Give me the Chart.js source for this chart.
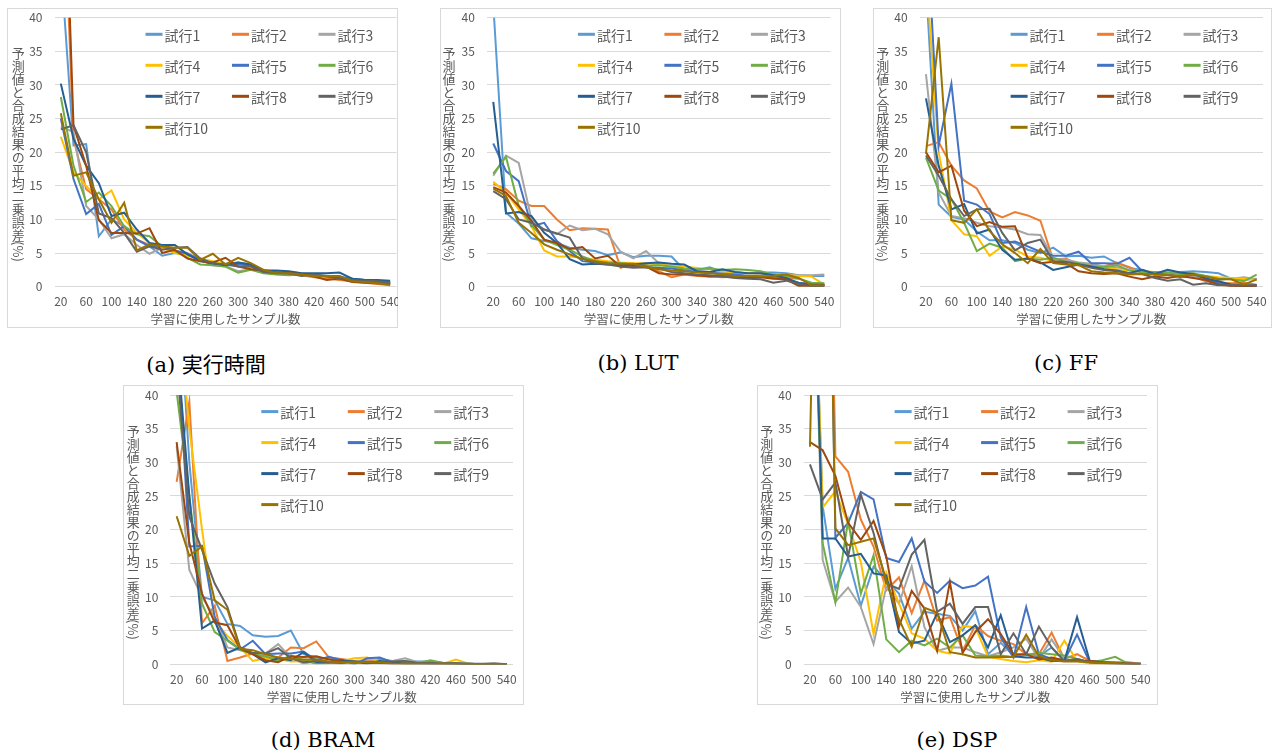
<!DOCTYPE html>
<html><head><meta charset="utf-8">
<script src="https://cdn.jsdelivr.net/npm/chart.js@4/dist/chart.umd.min.js"></script>
<style>
body{margin:0;background:#fff;width:1273px;height:754px;position:relative;overflow:hidden;}
.panel{position:absolute;outline:1px solid #d9d9d9;outline-offset:-1px;}
.panel canvas{position:absolute;left:0;top:0;}
.ytitle{position:absolute;writing-mode:vertical-rl;font:13px 'Noto Sans CJK JP',sans-serif;color:#595959;transform:translate(-50%,-50%);white-space:nowrap;line-height:1;}
.cap{position:absolute;font:21px 'DejaVu Serif','Noto Sans CJK JP',serif;color:#000;transform:translate(-50%,-50%);white-space:nowrap;}
</style>
</head><body>
<script>
// ---- categories ----
const samples = [20,40,60,80,100,120,140,160,180,200,220,240,260,280,300,320,340,360,380,400,420,440,460,480,500,520,540];
const trialNames = ['試行1','試行2','試行3','試行4','試行5','試行6','試行7','試行8','試行9','試行10'];
const yTicks = [0,5,10,15,20,25,30,35,40];
const xTitle = '学習に使用したサンプル数';
const yTitle = '予測値と合成結果の平均二乗誤差(%)';
const captions = ['(a) 実行時間','(b) LUT','(c) FF','(d) BRAM','(e) DSP'];

// ---- (a) 実行時間 ----
const rt1 = [48,21,21.2,7.5,10,9,7,6,4.6,5,4.8,4.2,3.6,3.4,3.6,3.3,2.5,2.2,2,1.9,1.8,1.6,1.5,1.2,1,0.8,0.5];
const rt2 = [70,22,14.5,13,11.5,8.5,7,6.2,5.7,5.3,4.8,4,3.4,3.3,3.2,3,2.4,2,1.9,1.7,1.4,1.2,1,0.8,0.6,0.4,0.2];
const rt3 = [23.8,23,12,10,7.2,7.8,6.2,4.9,5.8,5.3,5,4,3.2,3,2.3,2.6,2.4,2,1.8,1.8,1.6,1.5,1.4,1,0.8,0.6,0.4];
const rt4 = [22.3,17,15,13,14.3,10,8,6.5,5.8,5,4.6,4.2,3.8,3.3,3.1,2.8,2.5,2.2,2.2,2,1.7,1.5,1.3,1,0.9,0.7,0.5];
const rt5 = [25,16,10.8,12.3,7.7,9,7,6,6,5.4,4.9,4,3.3,3.1,3.4,3.1,2.2,2.1,2,1.9,1.7,1.6,1.4,1.2,1,0.9,0.7];
const rt6 = [28.2,18,12.6,14,12,9,7.8,7.5,6,5.3,4.3,3.3,3.2,3,2.1,2.5,2,1.8,1.7,1.8,1.6,1.5,1.3,1,0.8,0.7,0.5];
const rt7 = [30.2,22,18,15.4,10.5,11,8.5,6.5,6.2,6.2,4.8,3.8,3.5,3.2,3.6,3.3,2.4,2.4,2.3,2,2,2,2.1,1.2,1,1,0.9];
const rt8 = [80,24,18,9.9,8,8,7.9,8.7,5,5.5,4.2,3.8,3.6,4.3,3,2.6,2.4,2.1,2,1.9,1.5,1,1.2,0.7,0.6,0.5,0.4];
const rt9 = [23.4,24,20,10.9,10.2,8,5.2,6,5.5,5.8,5.9,4.2,3.5,3.3,3,3,2.2,2,2,1.6,1.8,1.5,1.3,1,0.9,0.8,0.6];
const rt10 = [25.8,16.5,17,13,9.5,12.5,5.4,6.3,6,5.8,5.8,4,4.9,3.3,4.3,3.5,2.5,2,2,1.8,1.6,1.6,1.6,0.8,0.7,0.5,0.3];

// ---- (b) LUT ----
const lut1 = [42,11,9.4,7.2,6.8,6.5,5.8,5.5,5.3,4.7,5.1,4.4,4.6,4.6,4.5,2.5,2.5,2.9,2.2,2.1,2,2.1,2.1,2,1.7,1.6,1.6];
const lut2 = [15.3,14.5,12.8,12,12,10,8.4,8.7,8.6,8.5,2.8,3.4,3.3,2.3,1.4,1.8,1.6,1.5,1.4,1.5,1.4,1.5,1.4,1.3,1.2,0.5,0.2];
const lut3 = [16.5,19.5,18.4,10,8.5,7.8,9.1,8.4,8.6,7.8,5.2,4.2,5.3,3.5,2.9,2.5,2.3,2.2,2,1.8,1.6,1.7,1.9,1.8,1.7,1.7,1.8];
const lut4 = [15.6,14,11.5,9,5.4,4.5,4.5,4.3,4,3.8,3.6,3.5,3.5,3.3,3.1,3,2.8,2.6,2.3,2.1,2,2,1.8,1.7,1.6,1.5,0.3];
const lut5 = [21.3,17.2,15.7,9,9.5,6.8,5.3,3.8,3.6,3.4,3.4,3,2.9,2.8,2.7,2.4,2.2,2.1,1.9,1.8,1.6,1.5,1.3,1.2,0.6,0.4,0.3];
const lut6 = [16.8,19.3,12,9.2,7,6.2,5.5,4.5,3.8,3.6,3.5,3.3,3.1,3.2,3,2.7,2.6,2.7,2.5,2.6,2.5,2.3,1.8,1.6,1.2,0.6,0.5];
const lut7 = [27.5,10.9,11.1,10.5,8,6.5,4.1,3.3,3.4,3.3,3.2,3.3,3.5,3.6,3.4,3.3,2.3,2.2,2.6,2.2,2,2,1.7,1.3,0.5,0.3,0.3];
const lut8 = [14.8,14,12,9.8,7,6.5,5.6,5.9,4.2,4.6,3,3.2,3,2,1.8,1.9,1.7,1.5,1.6,1.5,1.3,1.4,1.2,1.1,0.1,0.1,0.1];
const lut9 = [14.2,13,10,9.5,8.5,7.9,7.3,4.2,3.5,3.3,3,2.8,2.9,2.7,2.2,2,1.8,1.7,1.5,1.3,1.2,1.1,0.6,0.9,0.4,0.1,0.1];
const lut10 = [14.6,13.5,9.5,8,6.3,5.5,4.8,4.1,3.8,3.5,3.4,3.4,2.9,2.6,2.4,2.3,2.1,2,1.8,1.6,1.6,1.5,1.6,1.8,1.3,0.2,0.2];

// ---- (c) FF ----
const ff1 = [45,12.2,10.4,10,8.2,6.9,6.9,6.5,5.5,5,5.8,4.5,4.6,4.3,4.5,3.5,2.8,2.5,2,2.1,2.2,2.3,2.2,2,1.2,1,1.2];
const ff2 = [20.9,21.5,18,15.8,14.6,11.2,10.3,11.1,10.6,9.8,4,4.2,3.3,3.2,3,3.6,2.9,2,1.8,1.8,1.4,1.5,0.8,0.6,0.5,0.6,0.3];
const ff3 = [31.6,14,10.5,10.2,9.5,9,8.8,8.5,7.8,7.7,4.2,4,3.6,3.4,3,2.9,2.5,2.3,2,1.8,1.6,1.4,1.2,1,1.2,1.4,1.1];
const ff4 = [47,20,9.9,7.8,7.5,4.6,6,5.5,4.5,4.3,3.8,3.5,3.2,3,2.8,2.6,2.4,2.3,2.2,2,1.9,1.8,1.6,1.4,1.3,1.2,1];
const ff5 = [56,21,30.2,12.8,12.2,10.8,6.5,6.7,6,5.2,4.6,4.6,5.2,3.5,3.5,3.4,4.3,2.3,2,1.8,1.5,1.8,1.3,0.5,0.1,0.1,0.1];
const ff6 = [19.2,14.3,13,9.5,5.3,6.4,5.8,3.8,4.2,4,4.3,3.7,3.5,3,2.9,3.2,2.4,2.2,2.2,2.1,1.9,2,1.6,1.2,1.1,0.8,1.8];
const ff7 = [28,18,11.5,12.3,7.9,8.5,5.5,4,4.2,3.6,2.5,2.9,3.3,3,2.6,2.4,2,2.5,1.9,2.5,2.1,1.9,1.2,0.8,0.3,0.1,0.2];
const ff8 = [20,17,18,11.3,9,9.6,8.9,9,4.2,3.5,3.7,3.5,2.3,2,1.9,2,1.5,1.1,1.5,1.3,1.6,1.3,1,0.3,0.1,0.1,0.1];
const ff9 = [19.5,16.5,13,10.5,11.5,11.6,8,5.4,6.5,7,3.8,3.7,3.3,2.8,2.5,2.3,2,1.9,1.3,0.9,1.1,0.3,0.5,0.2,0.3,0.2,0.2];
const ff10 = [19.8,37.1,9.9,9.5,11.5,8.3,6.3,5,3.5,5.6,3.5,3.3,3.2,2.3,2.1,2,1.8,1.9,1.8,1.7,1.6,1.8,1.5,1.1,1.1,0.3,1.1];

// ---- (d) BRAM ----
const bram1 = [60,30,10,9.5,6,5.7,4.3,4.1,4.2,5,1.5,1,0.8,0.6,0.5,0.5,0.8,0.5,0.4,0.4,0.4,0.2,0.1,0.1,0,0,0];
const bram2 = [27.1,39,6.1,8.7,0.5,1,1.6,1,1,2.5,2.4,3.4,1,0.8,0.5,0.6,0.3,0.2,0.2,0.3,0.3,0.2,0.1,0.1,0,0,0];
const bram3 = [32.4,14,10,7,2.5,2.1,1.6,1.6,3,1,0.1,0.5,0.3,0.1,0.5,0.4,0.3,0.5,0.9,0.3,0.2,0.1,0.1,0,0,0.2,0];
const bram4 = [55,35,20,6.5,4.2,2.5,0.5,0.9,0.8,0.4,0.5,0.7,0.3,0.5,0.9,1,0.5,0.3,0.2,0.2,0.3,0.1,0.7,0.1,0,0,0];
const bram5 = [50,17.5,17.6,7,3.6,2.2,3.5,1.5,1.6,1.6,1.9,0.6,1.1,0.6,0,0.9,1,0.3,0.3,0.2,0.3,0.2,0.2,0.1,0,0,0];
const bram6 = [40.5,25,9,4.8,3.5,2.2,1.5,1.2,0.5,1.3,0.6,0.1,0.2,0.3,0.3,0.2,0.2,0.2,0.3,0.2,0.6,0.2,0.1,0.1,0,0,0];
const bram7 = [48,25,5.3,6.5,1.7,2.5,1.5,0.3,0.9,0.6,1.8,0.3,0.3,0.6,0.4,0.1,0.5,0.3,0.1,0.1,0.1,0.1,0.1,0,0,0,0];
const bram8 = [33,18,10.5,6.2,5.8,2.3,1.5,0.6,0.3,1.2,1.1,1.2,0.7,0.4,0.3,0.3,0.2,0.1,0.1,0.1,0.1,0.1,0.1,0,0,0,0];
const bram9 = [45,21.9,17,12,8.5,2.5,1.7,1.6,2.4,0.9,0.3,0.5,0.3,0.2,0.4,0.3,0.2,0.4,0.5,0.2,0.1,0.1,0.1,0.1,0.1,0.1,0];
const bram10 = [22,16.1,17.5,9.5,8.1,2.3,2.1,1.5,1,0.8,0.7,0.7,0.4,0.3,0.3,0.3,0.3,0.1,0.1,0.1,0.1,0.1,0.1,0,0,0,0];

// ---- (e) DSP ----
const dsp1 = [80,23.5,11.2,15.8,8.7,14.5,12.5,10.5,5.3,7.8,7.5,7.2,5,7.9,1.5,3.2,1.3,1.5,1.2,2.5,0.5,0.8,0.3,0.2,0.3,0.1,0.1];
const dsp2 = [70,120,30.9,28.6,21.5,17.5,11,12.9,7.6,12.4,6.5,7,2,5.8,4.2,3.5,3,1.5,1.5,4.7,0.8,1.5,0.5,0.3,0.3,0.3,0.1];
const dsp3 = [80,15.5,9.3,11.4,8.5,3,11.5,9,14.6,5.5,2,2.5,2.5,1.8,1.2,1.8,2.5,3.8,0.8,3.7,0.8,0.5,0.3,0.1,0.1,0.1,0];
const dsp4 = [80,23.3,25.7,20.8,15.2,4.5,13.6,9,4.6,3.8,2,1.6,5.7,5.5,1.1,0.8,0.5,0.3,0.6,0.4,3.5,0.5,0.1,0.1,0,0,0];
const dsp5 = [70,130,18.8,21,25.6,24.5,15.8,15.2,18.7,12.3,10.6,12.4,11.3,11.7,13,4,1,8.5,1.5,0.8,0.5,4.4,0.3,0.2,0.1,0.1,0];
const dsp6 = [80,18,9.2,21.3,10.5,16.2,3.7,1.8,3.5,2.8,3.8,2.5,4.3,1.3,1.2,1.3,1.1,1.4,1.7,1.5,1.3,0.8,0.3,0.6,1.1,0.1,0];
const dsp7 = [80,18.7,18.7,16,16.4,13.5,13.2,4.8,3.1,3.5,7.6,3.3,4.3,5.8,2.5,7.3,1.2,1,1,0.5,0.5,7,0.5,0.3,0.2,0.1,0.1];
const dsp8 = [33,31.8,28,21,18.5,21.3,16,5.6,10.9,8.3,2,12.2,1.7,4.8,6.7,4.5,1.5,1.5,0.7,1,0.6,0.5,0.5,0.3,0.2,0.1,0];
const dsp9 = [29.7,24.5,27,16,25.2,19.5,12,11.2,16.3,18.5,7.8,9,6,8.5,8.5,1.5,4.6,1.5,5.6,2.5,0.5,0.8,0.3,0.2,0.1,0.1,0.1];
const dsp10 = [32.3,120,20.2,17.7,18.2,18.7,12.5,6.7,2.6,8.4,7.7,1.8,1.5,1,1,1.1,1.1,4.4,1.2,0.6,0.4,0.4,0.3,0.2,0.2,0.1,0];

const colors = ['#5B9BD5','#ED7D31','#A5A5A5','#FFC000','#4472C4','#70AD47','#255E91','#9E480E','#636363','#997300'];
const FONT = "'Noto Sans CJK JP','Noto Sans',sans-serif";
Chart.defaults.font.family = FONT;

const panels = [
  {box:[7,8,391,320],  area:[54.5,17.7,396.5,286.7], yt:18.3,  cap:[206,363], series:[rt1,rt2,rt3,rt4,rt5,rt6,rt7,rt8,rt9,rt10]},
  {box:[440,8,401,320], area:[486.9,17.7,830.7,286.7], yt:449, cap:[638,363], series:[lut1,lut2,lut3,lut4,lut5,lut6,lut7,lut8,lut9,lut10]},
  {box:[873,8,399,320], area:[919.6,17.7,1263,286.7], yt:882.7, cap:[1066,363], series:[ff1,ff2,ff3,ff4,ff5,ff6,ff7,ff8,ff9,ff10]},
  {box:[123,385,401,320], area:[170.3,395,513,664.3], yt:133.3, cap:[323,740], series:[bram1,bram2,bram3,bram4,bram5,bram6,bram7,bram8,bram9,bram10]},
  {box:[757,385,401,320], area:[803.6,395,1147,664.3], yt:766.7, cap:[957,740], series:[dsp1,dsp2,dsp3,dsp4,dsp5,dsp6,dsp7,dsp8,dsp9,dsp10]}
];

const gridLegend = {
  id:'gridLegend',
  afterDraw(chart){
    const ca = chart.chartArea, ctx = chart.ctx;
    ctx.save();
    ctx.font = "14px " + FONT;
    ctx.textBaseline = 'middle';
    chart.data.datasets.forEach((ds,i)=>{
      const c = i%3, r = Math.floor(i/3);
      const x = ca.left + 91 + c*86.5, y = ca.top + 16.6 + r*31;
      ctx.strokeStyle = ds.borderColor; ctx.lineWidth = 3;
      ctx.beginPath(); ctx.moveTo(x,y); ctx.lineTo(x+17,y); ctx.stroke();
      ctx.fillStyle = '#595959';
      ctx.fillText(ds.label, x+19, y+1);
    });
    ctx.restore();
  }
};

const YW = 40, XH = 40;
panels.forEach((p,pi)=>{
  const [bx,by,bw,bh] = p.box;
  const [l,t,r,b] = p.area;
  const div = document.createElement('div');
  div.className = 'panel';
  div.style.cssText = `left:${bx}px;top:${by}px;width:${bw}px;height:${bh}px;`;
  const cv = document.createElement('canvas');
  cv.width = bw; cv.height = bh;
  cv.style.width = bw+'px'; cv.style.height = bh+'px';
  div.appendChild(cv);
  document.body.appendChild(div);

  const yt = document.createElement('div');
  yt.className = 'ytitle';
  yt.textContent = yTitle;
  yt.style.left = p.yt + 'px';
  yt.style.top = ((t+b)/2 + 2) + 'px';
  document.body.appendChild(yt);

  const cap = document.createElement('div');
  cap.className = 'cap';
  cap.textContent = captions[pi];
  cap.style.left = p.cap[0] + 'px';
  cap.style.top = p.cap[1] + 'px';
  document.body.appendChild(cap);

  const datasets = p.series.map((arr,k)=>({
    label: trialNames[k], data: arr, borderColor: colors[k], backgroundColor: colors[k],
    borderWidth: 2, pointRadius: 0, pointHoverRadius: 0, tension: 0, fill: false, order: 10-k
  }));

  new Chart(cv, {
    type: 'line',
    data: {labels: samples, datasets},
    options: {
      responsive: false, animation: false, events: [],
      layout: {padding: {left: l-bx-YW, top: t-by, right: bx+bw-r, bottom: by+bh-b-XH}},
      plugins: {legend: {display: false}, tooltip: {enabled: false}},
      scales: {
        x: {
          type: 'category', offset: true,
          grid: {display: false, drawTicks: false}, border: {display: false},
          ticks: {autoSkip: false, maxRotation: 0, minRotation: 0, padding: 8, color: '#595959', font: {size: 12},
            callback: (v,i)=> (i%2===0 ? String(samples[i]) : '')},
          title: {display: true, text: xTitle, color: '#595959', font: {size: 12.5}, padding: {top: 0, bottom: 0}},
          afterFit: (s)=>{ s.height = XH; s.paddingLeft = 0; s.paddingRight = 0; }
        },
        y: {
          min: 0, max: 40,
          afterBuildTicks: (s)=>{ s.ticks = yTicks.map(v=>({value: v})); },
          grid: {color: '#D9D9D9', drawTicks: false, lineWidth: 1}, border: {display: false},
          ticks: {padding: 12, color: '#595959', font: {size: 12}},
          afterFit: (s)=>{ s.width = YW; s.paddingTop = 0; s.paddingBottom = 0; }
        }
      }
    },
    plugins: [gridLegend]
  });
});
</script>
</body></html>
